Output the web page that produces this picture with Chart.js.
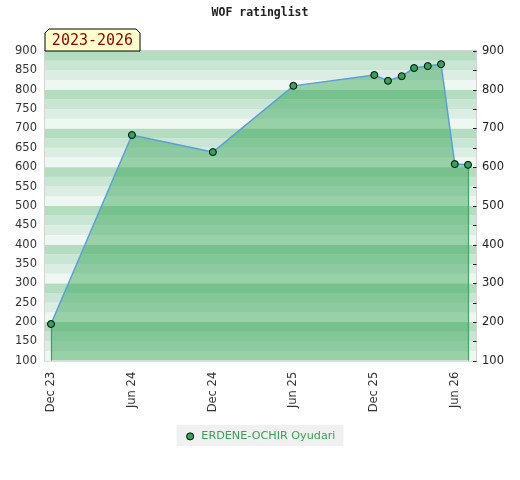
<!DOCTYPE html>
<html>
<head>
<meta charset="utf-8">
<script src="https://cdn.jsdelivr.net/npm/chart.js@4"></script>
<style>
  body { margin: 0; background: #fff; }
  #wrap { width: 520px; height: 480px; }
</style>
</head>
<body>
<div id="wrap"><canvas id="ratingChart" width="520" height="480"></canvas></div>
<script>
// rating list periods (first day of month) and the player's rating
const periods = ['2023-12', '2024-06', '2024-12', '2025-06', '2025-12', '2026-01',
                 '2026-02', '2026-03', '2026-04', '2026-05', '2026-06', '2026-07'];
const ratings = [195, 683, 639, 810, 838, 823, 835, 856, 861, 866, 608, 606];
const playerName = 'ERDENE-OCHIR Oyudari';

const tickPeriods = ['2023-12', '2024-06', '2024-12', '2025-06', '2025-12', '2026-06'];
const tickLabels = ['Dec 23', 'Jun 24', 'Dec 24', 'Jun 25', 'Dec 25', 'Jun 26'];
const yMin = 100, yMax = 900;
const rangeLabel = '2023-2026';
const chartTitle = 'WOF ratinglist';

function toDay(p) {
    let parts = p.split('-');
    return Date.UTC(+parts[0], +parts[1] - 1, 1) / 86400000;
}

const points = periods.map((p, i) => ({ x: toDay(p), y: ratings[i] }));
const tickDays = tickPeriods.map(toDay);

// striped background, border, end lines, badge, title, legend box
const decor = {
    id: 'decor',
    beforeDraw(chart) {
        const { ctx, chartArea: a } = chart;
        const y = chart.scales.y;
        const shades = ['#eef7f1', '#dcede3', '#c8e6d3', '#b3dcc1'];
        ctx.save();
        for (let v = yMin; v < yMax; v += 25) {
            let top = y.getPixelForValue(v + 25), bot = y.getPixelForValue(v);
            ctx.fillStyle = shades[(v % 100) / 25];
            ctx.fillRect(a.left, top, a.right - a.left, bot - top);
        }
        // legend background
        const boxes = chart.legend && chart.legend.legendHitBoxes;
        if (boxes && boxes.length) {
            const b = boxes[0];
            ctx.fillStyle = '#f0f0f0';
            ctx.fillRect(b.left - 8, b.top - 6, b.width + 16, b.height + 10);
        }
        ctx.restore();
    },
    beforeDatasetsDraw(chart) {
        const { ctx, chartArea: a } = chart;
        const meta = chart.getDatasetMeta(0).data;
        ctx.save();
        ctx.strokeStyle = '#44a464';
        ctx.lineWidth = 1.2;
        [meta[0], meta[meta.length - 1]].forEach(pt => {
            ctx.beginPath();
            ctx.moveTo(Math.round(pt.x) + 0.5, pt.y);
            ctx.lineTo(Math.round(pt.x) + 0.5, a.bottom);
            ctx.stroke();
        });
        ctx.restore();
    },
    afterDraw(chart) {
        const { ctx, chartArea: a } = chart;
        const y = chart.scales.y;
        ctx.save();
        // frame
        ctx.strokeStyle = '#d4d4d4';
        ctx.lineWidth = 1;
        ctx.strokeRect(a.left - 0.5, a.top - 0.5, a.right - a.left + 1, a.bottom - a.top + 1);
        // right side small ticks
        ctx.strokeStyle = '#111';
        for (let v = yMin; v <= yMax; v += 50) {
            let py = Math.round(y.getPixelForValue(v)) + 0.5;
            ctx.beginPath();
            ctx.moveTo(a.right - 3, py);
            ctx.lineTo(a.right + 0.5, py);
            ctx.stroke();
        }
        // title
        ctx.fillStyle = '#222';
        ctx.font = 'bold 11.5px "DejaVu Sans Mono", monospace';
        ctx.textAlign = 'center';
        ctx.textBaseline = 'middle';
        ctx.fillText(chartTitle, chart.width / 2, 13);
        // range badge
        let bx = a.left, by = a.top - 22, bw = 95, bh = 22, c = 4;
        ctx.beginPath();
        ctx.moveTo(bx, by + bh);
        ctx.lineTo(bx, by + c);
        ctx.lineTo(bx + c, by);
        ctx.lineTo(bx + bw - c, by);
        ctx.lineTo(bx + bw, by + c);
        ctx.lineTo(bx + bw, by + bh);
        ctx.closePath();
        ctx.fillStyle = '#ffffcc';
        ctx.fill();
        ctx.strokeStyle = '#000';
        ctx.stroke();
        ctx.fillStyle = '#8b0000';
        ctx.font = '15px "DejaVu Sans Mono", monospace';
        ctx.textAlign = 'center';
        ctx.fillText(rangeLabel, bx + bw / 2, by + bh / 2 + 1);
        ctx.restore();
    }
};

const ctx = document.getElementById('ratingChart').getContext('2d');
const ratingChart = new Chart(ctx, {
    type: 'line',
    data: {
        datasets: [{
            label: playerName,
            data: points,
            borderColor: '#5aa0d8',
            borderWidth: 1.5,
            backgroundColor: 'rgba(46,160,80,0.45)',
            fill: 'start',
            tension: 0,
            pointRadius: 3.5,
            pointHoverRadius: 3.5,
            pointBackgroundColor: '#33a35c',
            pointBorderColor: '#000',
            pointBorderWidth: 1
        }]
    },
    options: {
        responsive: false,
        animation: false,
        layout: { padding: { top: 51, bottom: 28, left: 0, right: 0 } },
        plugins: {
            title: { display: false },
            tooltip: { enabled: false },
            legend: {
                position: 'bottom',
                labels: {
                    usePointStyle: true,
                    pointStyle: 'circle',
                    boxWidth: 11.5,
                    boxHeight: 5,
                    padding: 10,
                    color: '#3aa05a',
                    font: { family: '"DejaVu Sans"', size: 11.2 },
                    generateLabels(chart) {
                        return [{
                            text: playerName,
                            fillStyle: '#33a35c',
                            strokeStyle: '#000',
                            lineWidth: 1,
                            pointStyle: 'circle',
                            fontColor: '#3aa05a',
                            datasetIndex: 0
                        }];
                    }
                }
            }
        },
        scales: {
            x: {
                type: 'linear',
                min: tickDays[0] - 13.6,
                max: toDay('2026-06') + 48,
                afterBuildTicks(scale) {
                    scale.ticks = tickDays.map(v => ({ value: v }));
                },
                afterFit(scale) { scale.height = 60; },
                grid: { display: false, drawTicks: false },
                border: { display: false },
                ticks: {
                    autoSkip: false,
                    minRotation: 90,
                    maxRotation: 90,
                    padding: 11,
                    color: '#333',
                    font: { family: '"DejaVu Sans"', size: 11.5 },
                    callback(v) {
                        let i = tickDays.indexOf(v);
                        return i >= 0 ? tickLabels[i] : '';
                    }
                }
            },
            y: {
                position: 'left',
                min: yMin,
                max: yMax,
                afterFit(scale) { scale.width = 45; },
                grid: { display: false, drawTicks: false },
                border: { display: false },
                ticks: {
                    stepSize: 50,
                    padding: 8,
                    color: '#333',
                    font: { family: '"DejaVu Sans"', size: 11.5 }
                }
            },
            y2: {
                position: 'right',
                min: yMin,
                max: yMax,
                afterFit(scale) { scale.width = 44; },
                grid: { display: false, drawTicks: false },
                border: { display: false },
                ticks: {
                    stepSize: 50,
                    padding: 6,
                    color: '#222',
                    font: { family: '"DejaVu Sans"', size: 11.5 },
                    callback(v) { return v % 100 === 0 ? v : ''; }
                }
            }
        }
    },
    plugins: [decor]
});
</script>
</body>
</html>
